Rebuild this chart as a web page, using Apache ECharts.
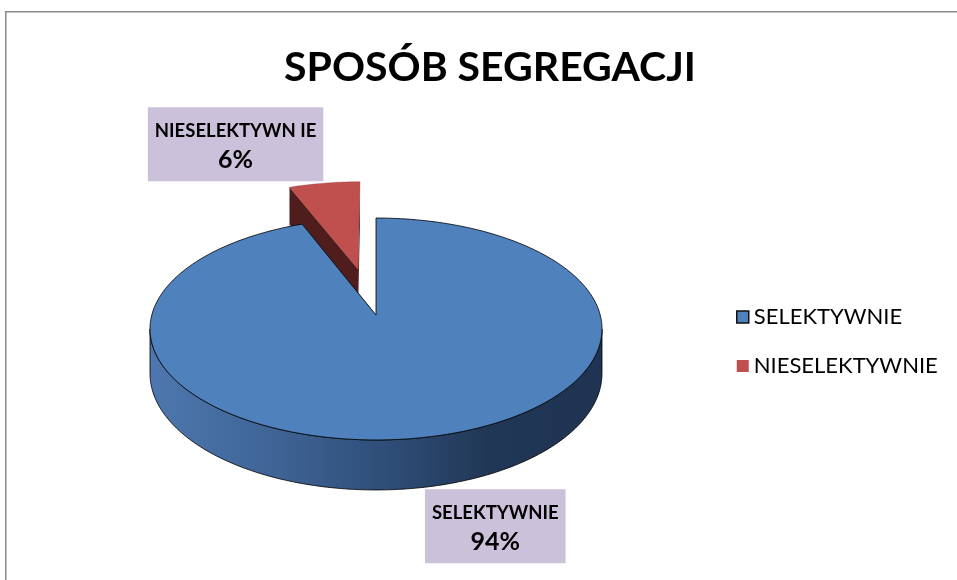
<!DOCTYPE html>
<html>
<head>
<meta charset="utf-8">
<title>SPOSÓB SEGREGACJI</title>
<script src="https://cdn.jsdelivr.net/npm/echarts@6/dist/echarts.min.js"></script>
<style>
  html, body { margin: 0; padding: 0; background: #fff; }
  #content { width: 957px; height: 580px; }
</style>
</head>
<body>
<div id="content"></div>
<script>
// dane wykresu
var categories = ['SELEKTYWNIE', 'NIESELEKTYWNIE'];
var values = [94, 6];
var labelNames = ['SELEKTYWNIE', 'NIESELEKTYWN IE'];
var explode = [0, 0.45]; // wysunięcie wycinka (ułamek promienia)

// kolory
var topColors = ['#4f81bd', '#c0504d'];
var faceColors = ['#1f3352', '#4f1d1c'];
var fontName = 'Lato';

// geometria tortu 3D (rzut perspektywiczny)
var CX = 376, CY = 315;
var RX = 224.2, RY = 109.2;
var PB = 0.126;       // siła perspektywy
var DEPTH = 43.7;     // grubość
var WALL_FROM = Math.acos(-PB) * 180 / Math.PI;
var WALL_TO = 360 - WALL_FROM;

var total = values.reduce(function(a, b) { return a + b; }, 0);

function sliceAngles(i) {
    var s = 0;
    for (var k = 0; k < i; k++) s += values[k];
    var start = s / total * 360;
    return [start, start + values[i] / total * 360];
}

// punkt na obwodzie (r=1) lub w środku (r=0), drop = przesunięcie w dół (dno)
function pt(theta, r, off, drop) {
    var rad = theta * Math.PI / 180;
    var u = off[0] + r * Math.sin(rad);
    var v = off[1] - r * Math.cos(rad);
    var w = 1 - PB * v;
    return [CX + RX * u / w, CY + (RY * v + drop) / w];
}

function arc(a0, a1, off, drop) {
    var pts = [];
    var n = Math.max(2, Math.ceil(a1 - a0));
    for (var k = 0; k <= n; k++) {
        pts.push(pt(a0 + (a1 - a0) * k / n, 1, off, drop));
    }
    return pts;
}

function makeRender(i) {
    return function(params, api) {
        var ang = sliceAngles(i);
        var start = ang[0], end = ang[1];
        var mid = (start + end) / 2 * Math.PI / 180;
        var e = explode[i];
        var off = [e * Math.sin(mid), -e * Math.cos(mid)];
        var midV = -Math.cos(mid);
        var base = Math.round((midV + 1) * 10) * 10;
        var stroke = i === 0 ? 'rgba(0,0,0,0.8)' : 'rgba(120,40,40,0.3)';
        var children = [];

        // ściany boczne (promieniowe)
        [start, end].forEach(function(a) {
            children.push({
                type: 'polygon',
                z2: base,
                shape: { points: [pt(a, 0, off, 0), pt(a, 1, off, 0), pt(a, 1, off, DEPTH), pt(a, 0, off, DEPTH)] },
                style: { fill: faceColors[i], stroke: 'none' }
            });
        });

        // ściana zewnętrzna (widoczna z przodu)
        var a0 = Math.max(start, WALL_FROM), a1 = Math.min(end, WALL_TO);
        if (a1 > a0) {
            var topArc = arc(a0, a1, off, 0);
            var botArc = arc(a0, a1, off, DEPTH).reverse();
            children.push({
                type: 'polygon',
                z2: base + 1,
                shape: { points: topArc.concat(botArc) },
                style: {
                    fill: new echarts.graphic.LinearGradient(CX - RX, 0, CX + RX, 0, [
                        { offset: 0, color: '#4d77ae' },
                        { offset: 0.25, color: '#406698' },
                        { offset: 0.5, color: '#30507b' },
                        { offset: 0.75, color: '#213756' },
                        { offset: 1, color: '#1f3352' }
                    ], true),
                    stroke: stroke,
                    lineWidth: 1
                }
            });
        }

        // wierzch
        var topPts = [pt(start, 0, off, 0)].concat(arc(start, end, off, 0));
        children.push({
            type: 'polygon',
            z2: base + 2,
            shape: { points: topPts },
            style: { fill: topColors[i], stroke: stroke, lineWidth: 1 }
        });

        // etykieta danych
        var u = Math.sin(mid), sgnX = u >= 0 ? 1 : -1, sgnY = midV >= 0 ? 1 : -1;
        var anchor = sgnY > 0 ? pt((start + end) / 2, 1, off, DEPTH) : pt((start + end) / 2, 1, off, 0);
        children.push({
            type: 'text',
            z2: 500,
            x: anchor[0] + sgnX * 1,
            y: anchor[1] + sgnY * 2,
            style: {
                text: '{a|' + labelNames[i] + '}\n{b|' + Math.round(values[i] / total * 100) + '%}',
                align: sgnX > 0 ? 'left' : 'right',
                verticalAlign: sgnY > 0 ? 'top' : 'bottom',
                backgroundColor: '#ccc1da',
                padding: [12, 7, 4, 7],
                rich: {
                    a: { fontFamily: fontName, fontWeight: 'bold', fontSize: 18.5, lineHeight: 24, align: 'center', fill: '#000' },
                    b: { fontFamily: fontName, fontWeight: 'bold', fontSize: 25, lineHeight: 34, align: 'center', fill: '#000' }
                }
            }
        });

        return { type: 'group', children: children };
    };
}

var myChart = echarts.init(document.getElementById('content'));

var series = categories.map(function(name, i) {
    return {
        type: 'custom',
        name: name,
        coordinateSystem: 'none',
        data: [values[i]],
        itemStyle: { color: topColors[i] },
        renderItem: makeRender(i),
        silent: true
    };
});

myChart.setOption({
    animation: false,
    backgroundColor: '#fff',
    title: {
        text: 'SPOSÓB SEGREGACJI',
        left: 485,
        textAlign: 'center',
        top: 42,
        textStyle: { fontFamily: fontName, fontWeight: 'bold', fontSize: 41, color: '#000' }
    },
    legend: {
        orient: 'vertical',
        left: 731,
        top: 301,
        itemWidth: 12,
        itemHeight: 12,
        itemGap: 27,
        selectedMode: false,
        textStyle: { fontFamily: fontName, fontSize: 22, lineHeight: 22, color: '#000' },
        data: [
            { name: categories[0], icon: 'rect', itemStyle: { color: topColors[0], borderColor: '#111', borderWidth: 1.5 } },
            { name: categories[1], icon: 'rect', itemStyle: { color: topColors[1], borderWidth: 0 } }
        ]
    },
    graphic: [{
        type: 'rect',
        silent: true,
        shape: { x: 5.75, y: 11.75, width: 1000, height: 1000 },
        style: { fill: 'none', stroke: '#8a8a8a', lineWidth: 1.5 }
    }],
    series: series
});
</script>
</body>
</html>
